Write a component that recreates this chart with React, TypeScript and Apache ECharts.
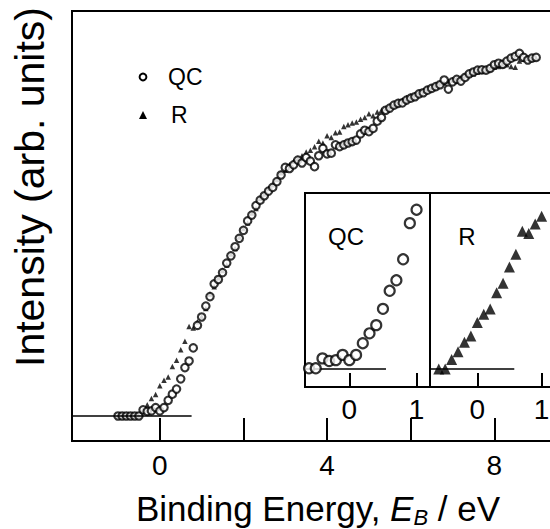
import React, { useEffect, useRef } from "react";
import * as echarts from "echarts";

const FONT = "'Liberation Sans', Arial, Helvetica, sans-serif";

// Binding energy grid (eV)
const energyEV = [
  -1.0, -0.9, -0.8, -0.7, -0.6, -0.5, -0.4, -0.3, -0.2, -0.1,
  0.0, 0.1, 0.2, 0.3, 0.4, 0.5, 0.6, 0.7, 0.8, 0.9,
  1.0, 1.1, 1.2, 1.3, 1.4, 1.5, 1.6, 1.7, 1.8, 1.9,
  2.0, 2.1, 2.2, 2.3, 2.4, 2.5, 2.6, 2.7, 2.8, 2.9,
  3.0, 3.1, 3.2, 3.3, 3.4, 3.5, 3.6, 3.7, 3.8, 3.9,
  4.0, 4.1, 4.2, 4.3, 4.4, 4.5, 4.6, 4.7, 4.8, 4.9,
  5.0, 5.1, 5.2, 5.3, 5.4, 5.5, 5.6, 5.7, 5.8, 5.9,
  6.0, 6.1, 6.2, 6.3, 6.4, 6.5, 6.6, 6.7, 6.8, 6.9,
  7.0, 7.1, 7.2, 7.3, 7.4, 7.5, 7.6, 7.7, 7.8, 7.9,
  8.0, 8.1, 8.2, 8.3, 8.4, 8.5, 8.6, 8.7, 8.8, 8.9,
  9.0,
];

// Intensity (arb. units), QC
const qcIntensity = [
  0, 0, 0, 0, 0, 0, 1.7, 1.25, 1.4, 2.3,
  1.4, 2.3, 4.3, 6.0, 7.4, 10.2, 13.3, 15.1, 18.7, 24.9,
  27.2, 30.2, 32.8, 36.3, 37.5, 39.4, 42.0, 44.0, 46.5, 48.8,
  51.0, 53.6, 55.2, 57.8, 59.3, 60.5, 61.8, 62.8, 64.4, 66.2,
  68.3, 68.0, 69.0, 70.3, 69.5, 71.0, 70.0, 68.5, 71.5, 73.5,
  72.0, 72.2, 74.5, 74.0, 74.5, 75.0, 75.4, 75.8, 77.5, 78.5,
  78.1, 79.0, 81.0, 82.0, 84.0, 84.6, 85.4, 85.9, 86.0, 86.8,
  87.3, 87.7, 88.5, 88.8, 89.5, 90.0, 90.5, 91.0, 92.3, 89.8,
  91.8, 92.5, 92.0, 93.0, 94.0, 94.5, 95.0, 95.1, 95.0, 95.5,
  96.5, 96.9, 96.6, 97.5, 98.3, 98.8, 99.6, 98.5, 97.8, 98.3,
  98.5,
];

// Intensity (arb. units), R
const rIntensity = [
  0, 0, 0, 0, 0, 0, 1.7, 3.1, 4.8, 5.9,
  8.3, 9.8, 10.7, 13.6, 15.3, 18.2, 20.5, 24.6, 24.2, 25.9,
  27.3, 29.5, 33.5, 35.5, 38.0, 40.0, 41.5, 44.5, 46.0, 49.2,
  51.5, 53.0, 55.8, 57.0, 59.8, 61.0, 62.5, 63.5, 65.0, 66.8,
  67.5, 69.0, 70.0, 70.8, 71.5, 72.5, 73.0, 74.0, 75.5, 75.0,
  77.0, 76.5, 77.8, 78.0, 79.5, 80.0, 80.5, 80.8, 81.5, 82.0,
  83.0, 82.5, 83.5, 84.0, 84.5, 85.0, 85.5, 86.5, 86.8, 87.5,
  88.0, 88.3, 89.0, 89.3, 90.0, 90.3, 91.0, 91.5, 91.5, 92.0,
  92.3, 92.8, 93.0, 93.5, 93.8, 94.0, 94.5, 94.8, 95.0, 95.3,
  95.8, 96.0, 96.3, 96.5, 96.0, 95.8, 97.5, 98.0, 98.3, 98.0,
  98.3,
];

// Axis ticks / labels
const mainTicks = [0, 2, 4, 6, 8];
const mainTickLabels = [0, 4, 8];
const insetTicks = [0, 1];
const insetRange = [-0.6, 1.0];
// background level line ends (eV)
const mainBaselineEnd = 0.76;
const qcInsetBaselineEnd = 0.545;
const rInsetBaselineEnd = 0.575;

const seriesNames = ["QC", "R"];
const xTitleParts = ["Binding Energy, ", "E", "B", " / eV"];
const yTitle = "Intensity (arb. units)";

function pairs(ys: number[]) {
  return energyEV.map((x, i) => [x, ys[i]]);
}
function insetPairs(ys: number[]) {
  return energyEV
    .map((x, i) => [x, ys[i]])
    .filter((p) => p[0] >= insetRange[0] - 1e-9 && p[0] <= insetRange[1] + 1e-9);
}

const black = "#000";

export default function App() {
  const ref = useRef<HTMLDivElement>(null);
  useEffect(() => {
    document.body.style.margin = "0";
    if (!ref.current) return;
    const chart = echarts.init(ref.current, undefined, { renderer: "svg" });

    const xMin = -2.1;
    const qcXMin = -0.66;
    const rXMin = -0.736;

    const axisLineStyle = { show: true, onZero: false, lineStyle: { color: black, width: 2 } };

    const option: any = {
      animation: false,
      backgroundColor: "#fff",
      grid: [
        { left: 72, top: 11, width: 506, height: 430, show: true, borderColor: black, borderWidth: 2, backgroundColor: "transparent", outerBoundsMode: "none", containLabel: false },
        { left: 305, top: 193, width: 125, height: 194, show: true, borderColor: black, borderWidth: 2, backgroundColor: "#fff", z: 5, outerBoundsMode: "none", containLabel: false },
        { left: 430, top: 193, width: 150, height: 194, show: true, borderColor: black, borderWidth: 2, backgroundColor: "#fff", z: 5, outerBoundsMode: "none", containLabel: false },
      ],
      xAxis: [
        {
          gridIndex: 0, type: "value", min: xMin, max: 10,
          axisLine: axisLineStyle,
          axisTick: { show: true, inside: true, length: 23, customValues: mainTicks, lineStyle: { color: black, width: 2 } },
          axisLabel: { customValues: mainTickLabels, fontSize: 28, color: black, margin: 10, fontFamily: FONT },
          splitLine: { show: false },
        },
        {
          gridIndex: 1, type: "value", min: qcXMin, max: 1.2, z: 7,
          axisLine: axisLineStyle,
          axisTick: { show: true, inside: true, length: 14, customValues: insetTicks, lineStyle: { color: black, width: 2 } },
          axisLabel: { customValues: insetTicks, fontSize: 28, color: black, margin: 8, fontFamily: FONT },
          splitLine: { show: false },
        },
        {
          gridIndex: 2, type: "value", min: rXMin, max: 1.597, z: 7,
          axisLine: axisLineStyle,
          axisTick: { show: true, inside: true, length: 14, customValues: insetTicks, lineStyle: { color: black, width: 2 } },
          axisLabel: { customValues: insetTicks, fontSize: 28, color: black, margin: 8, fontFamily: FONT },
          splitLine: { show: false },
        },
      ],
      yAxis: [
        { gridIndex: 0, type: "value", min: -6.87, max: 111.26, axisLine: axisLineStyle, axisTick: { show: false }, axisLabel: { show: false }, splitLine: { show: false } },
        { gridIndex: 1, type: "value", min: -3.21, max: 30.07, z: 7, axisLine: axisLineStyle, axisTick: { show: false }, axisLabel: { show: false }, splitLine: { show: false } },
        { gridIndex: 2, type: "value", min: -3.21, max: 31.43, z: 7, axisLine: axisLineStyle, axisTick: { show: false }, axisLabel: { show: false }, splitLine: { show: false } },
      ],
      series: [
        {
          name: seriesNames[1], type: "scatter", xAxisIndex: 0, yAxisIndex: 0, z: 2,
          data: pairs(rIntensity), symbol: "triangle", symbolSize: 5.5,
          itemStyle: { color: black },
        },
        {
          name: seriesNames[0], type: "scatter", xAxisIndex: 0, yAxisIndex: 0, z: 3,
          data: pairs(qcIntensity), symbol: "circle", symbolSize: 7.5,
          itemStyle: { color: "#fff", borderColor: black, borderWidth: 2.1 },
          markLine: {
            silent: true, symbol: "none", label: { show: false },
            lineStyle: { color: black, width: 1.6, type: "solid" },
            data: [[{ coord: [xMin, 0] }, { coord: [mainBaselineEnd, 0] }]],
          },
        },
        {
          name: seriesNames[0] + " inset", type: "scatter", xAxisIndex: 1, yAxisIndex: 1, z: 8,
          data: insetPairs(qcIntensity), symbol: "circle", symbolSize: 10,
          itemStyle: { color: "#fff", borderColor: black, borderWidth: 2.2 },
          markLine: {
            silent: true, symbol: "none", label: { show: false },
            lineStyle: { color: black, width: 1.6, type: "solid" },
            data: [[{ coord: [qcXMin, 0] }, { coord: [qcInsetBaselineEnd, 0] }]],
          },
        },
        {
          name: seriesNames[1] + " inset", type: "scatter", xAxisIndex: 2, yAxisIndex: 2, z: 8,
          data: insetPairs(rIntensity), symbol: "triangle", symbolSize: 11,
          itemStyle: { color: black },
          markLine: {
            silent: true, symbol: "none", label: { show: false },
            lineStyle: { color: black, width: 1.6, type: "solid" },
            data: [[{ coord: [rXMin, 0] }, { coord: [rInsetBaselineEnd, 0] }]],
          },
        },
      ],
      graphic: [
        {
          type: "text", x: 30, y: 187, rotation: Math.PI / 2, z: 10,
          style: { text: yTitle, fontSize: 41, fontFamily: FONT, fill: black, align: "center", verticalAlign: "middle" },
        },
        {
          type: "text", x: 318, y: 508, z: 10,
          style: {
            text: `{n|${xTitleParts[0]}}{i|${xTitleParts[1]}}{s|${xTitleParts[2]}}{n|${xTitleParts[3]}}`,
            align: "center", verticalAlign: "middle", fill: black, fontFamily: FONT, fontSize: 35,
            rich: {
              n: { fontSize: 35, fontFamily: FONT, fill: black, lineHeight: 40 },
              i: { fontSize: 35, fontFamily: FONT, fill: black, fontStyle: "italic", lineHeight: 40 },
              s: { fontSize: 22, fontFamily: FONT, fill: black, fontStyle: "italic", lineHeight: 22, verticalAlign: "bottom" },
            },
          },
        },
        // legend
        { type: "circle", z: 10, shape: { cx: 143, cy: 77, r: 3.4 }, style: { fill: "#fff", stroke: black, lineWidth: 2 } },
        { type: "text", z: 10, x: 168, y: 77, style: { text: seriesNames[0], fontSize: 23, fontFamily: FONT, fill: black, align: "left", verticalAlign: "middle" } },
        { type: "polygon", z: 10, shape: { points: [[139, 119], [147, 119], [143, 111]] }, style: { fill: black } },
        { type: "text", z: 10, x: 171, y: 115, style: { text: seriesNames[1], fontSize: 23, fontFamily: FONT, fill: black, align: "left", verticalAlign: "middle" } },
        // inset labels
        { type: "text", z: 10, x: 346, y: 236, style: { text: seriesNames[0], fontSize: 24, fontFamily: FONT, fill: black, align: "center", verticalAlign: "middle" } },
        { type: "text", z: 10, x: 467, y: 236, style: { text: seriesNames[1], fontSize: 24, fontFamily: FONT, fill: black, align: "center", verticalAlign: "middle" } },
      ],
    };
    chart.setOption(option);
    return () => chart.dispose();
  }, []);
  return <div ref={ref} style={{ width: 550, height: 529 }} />;
}
